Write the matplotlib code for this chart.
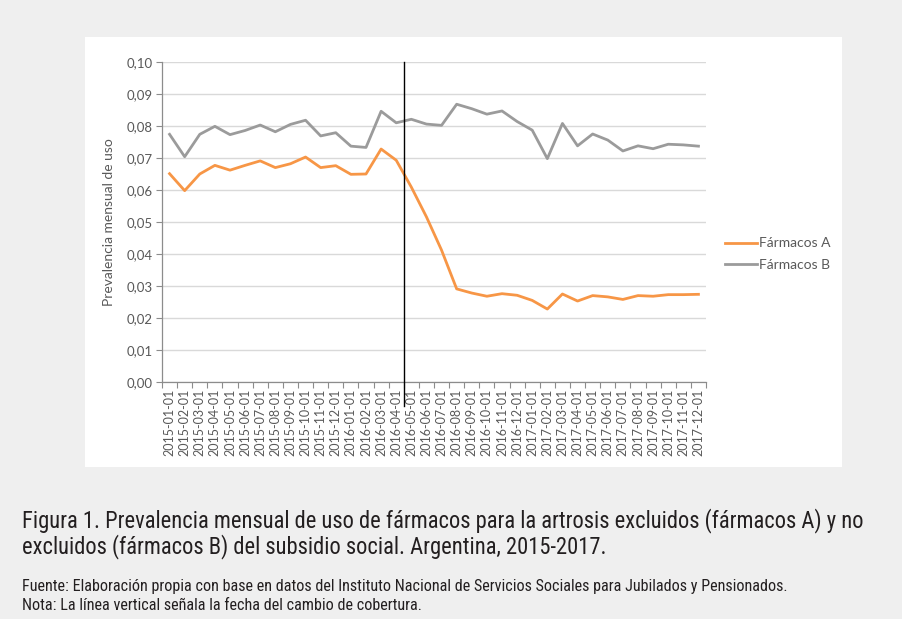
import matplotlib
matplotlib.use("Agg")
import matplotlib.pyplot as plt
from matplotlib.patches import Rectangle
from matplotlib.ticker import FixedLocator, FuncFormatter
from matplotlib import font_manager

months = [f"{y}-{m:02d}-01" for y in (2015, 2016, 2017) for m in range(1, 13)]

farmacos_a = [0.0651, 0.0598, 0.0650, 0.0677, 0.0662, 0.0677, 0.0691, 0.0670, 0.0682, 0.0703,
              0.0670, 0.0676, 0.0649, 0.0650, 0.0728, 0.0693,
              0.0609, 0.0516, 0.0412, 0.0291, 0.0278, 0.0268, 0.0276, 0.0271, 0.0255, 0.0228,
              0.0275, 0.0253, 0.0270, 0.0266, 0.0258, 0.0270, 0.0268, 0.0273, 0.0273, 0.0274]
farmacos_b = [0.0774, 0.0704, 0.0774, 0.0799, 0.0773, 0.0786, 0.0803, 0.0782, 0.0805, 0.0818,
              0.0769, 0.0779, 0.0737, 0.0733, 0.0846, 0.0810,
              0.0821, 0.0806, 0.0802, 0.0868, 0.0854, 0.0837, 0.0847, 0.0814, 0.0787, 0.0698,
              0.0808, 0.0738, 0.0775, 0.0756, 0.0722, 0.0738, 0.0729, 0.0743, 0.0741, 0.0737]
series_names = ["Fármacos A", "Fármacos B"]
y_ticks = [0.00, 0.01, 0.02, 0.03, 0.04, 0.05, 0.06, 0.07, 0.08, 0.09, 0.10]
change_index = 15.5  # between 2016-04 and 2016-05

caption_1 = "Figura 1. Prevalencia mensual de uso de fármacos para la artrosis excluidos (fármacos A) y no"
caption_2 = "excluidos (fármacos B) del subsidio social. Argentina, 2015-2017."
fuente = "Fuente: Elaboración propia con base en datos del Instituto Nacional de Servicios Sociales para Jubilados y Pensionados."
nota = "Nota: La línea vertical señala la fecha del cambio de cobertura."

available = {f.name for f in font_manager.fontManager.ttflist}
cap_family = None
for cand in ["Liberation Sans Narrow", "Roboto Condensed", "Open Sans Condensed", "Noto Sans Condensed",
             "DejaVu Sans Condensed", "Arial Narrow"]:
    if cand in available:
        cap_family = cand
        break
if cap_family is None:
    cap_family = "Liberation Sans" if "Liberation Sans" in available else "DejaVu Sans"
cap_font = [cap_family, "DejaVu Sans"]
chart_font = ["Lato", "DejaVu Sans"] if "Lato" in available else ["DejaVu Sans"]
plt.rcParams["font.family"] = chart_font

W, H = 903, 619
fig = plt.figure(figsize=(W / 100, H / 100), dpi=100, facecolor="#efefef")

fig.patches.append(Rectangle((85 / W, 1 - 467 / H), (842 - 85) / W, (467 - 37) / H,
                             transform=fig.transFigure, facecolor="white", edgecolor="none", zorder=-5))

ax = fig.add_axes([162 / W, 1 - 382 / H, (706 - 162) / W, (382 - 62) / H])
ax.set_zorder(2)
ax.set_facecolor("white")
x = list(range(len(months)))
ax.plot(x, farmacos_a, color="#F79646", lw=2.0, label=series_names[0], zorder=3)
ax.plot(x, farmacos_b, color="#9B9B9B", lw=2.0, label=series_names[1], zorder=3)

ax.set_xlim(-0.5, len(months) - 0.5)
ax.set_ylim(0, 0.10)
ax.set_yticks(y_ticks)
ax.yaxis.set_major_formatter(FuncFormatter(lambda v, p: f"{v:.2f}".replace(".", ",")))
ax.grid(axis="y", color="#d9d9d9", lw=1.0, zorder=0)
ax.set_axisbelow(True)

ax.set_xticks(x)
ax.set_xticklabels(months, rotation=90, fontsize=9, color="#595959")
ax.tick_params(axis="x", which="major", length=0, pad=5)
ax.xaxis.set_minor_locator(FixedLocator([i - 0.5 for i in range(len(months) + 1)]))
ax.tick_params(axis="x", which="minor", length=4, color="#8c8c8c", width=0.8)
ax.tick_params(axis="y", length=4, color="#8c8c8c", width=0.8, labelsize=9.5, labelcolor="#595959", pad=3)

for s in ("top", "right"):
    ax.spines[s].set_visible(False)
for s in ("left", "bottom"):
    ax.spines[s].set_color("#8c8c8c")
    ax.spines[s].set_linewidth(0.9)

ax.axvline(change_index, ymin=-0.075, ymax=1.0, color="black", lw=1.0, clip_on=False, zorder=4)

ax.set_ylabel("Prevalencia mensual de uso", fontsize=10, color="#595959", labelpad=8)

leg = ax.legend(loc="center left", bbox_to_anchor=(713 / W, 1 - 254 / H), bbox_transform=fig.transFigure,
                frameon=False, fontsize=10, handlelength=2.3, handletextpad=0.1, labelspacing=0.65)
for t in leg.get_texts():
    t.set_color("#595959")

t1 = fig.text(22 / W, 1 - 521 / H, caption_1, fontsize=14.5, family=cap_font, color="#231f20", va="center", ha="left")
t2 = fig.text(22 / W, 1 - 547 / H, caption_2, fontsize=14.5, family=cap_font, color="#231f20", va="center", ha="left")
t3 = fig.text(22 / W, 1 - 586 / H, fuente, fontsize=9.5, family=cap_font, color="#231f20", va="center", ha="left")
t4 = fig.text(22 / W, 1 - 606 / H, nota, fontsize=9.5, family=cap_font, color="#231f20", va="center", ha="left")

renderer = fig.canvas.get_renderer()
def fit(texts, target_px, base_size, max_size):
    w = texts[0].get_window_extent(renderer).width
    size = min(max_size, base_size * target_px / w)
    for t in texts:
        t.set_fontsize(size)
fit([t1, t2], 840, 14.5, 18)
fit([t3, t4], 767, 9.5, 12)

fig.savefig("out.png", dpi=100, facecolor=fig.get_facecolor())
